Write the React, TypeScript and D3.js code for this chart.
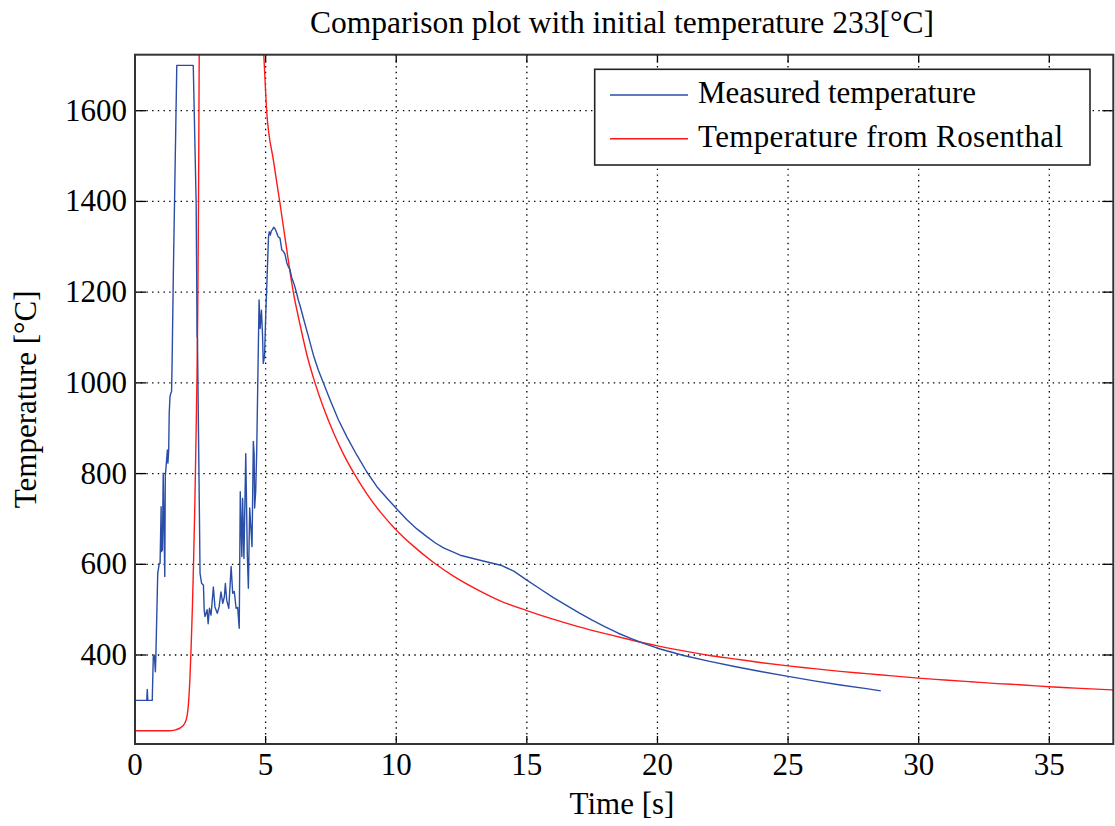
import React from "react";
import * as d3 from "d3";

const measuredTime = [0, 0.45, 0.47, 0.49, 0.66, 0.70, 0.74, 0.78, 0.80, 0.87, 0.93, 0.96, 1.00, 1.01, 1.05, 1.08, 1.14, 1.16, 1.20, 1.24, 1.26, 1.29, 1.31, 1.34, 1.37, 1.40, 1.42, 1.47, 1.60, 2.23, 2.34, 2.36, 2.375, 2.39, 2.46, 2.49, 2.55, 2.62, 2.65, 2.68, 2.72, 2.76, 2.80, 2.85, 2.91, 3.00, 3.06, 3.15, 3.22, 3.29, 3.36, 3.42, 3.46, 3.51, 3.59, 3.68, 3.74, 3.80, 3.87, 3.93, 3.99, 4.03, 4.09, 4.12, 4.17, 4.24, 4.30, 4.34, 4.39, 4.48, 4.53, 4.56, 4.58, 4.62, 4.66, 4.75, 4.79, 4.84, 4.88, 4.91, 4.96, 5.01, 5.04, 5.11, 5.14, 5.18, 5.22, 5.26, 5.31, 5.36, 5.41, 5.48, 5.55, 5.62, 5.68, 5.74, 5.81, 5.87, 5.93, 6.00, 6.06, 6.10, 6.19, 6.25, 6.32, 6.45, 6.64, 6.83, 7.02, 7.21, 7.47, 7.79, 8.11, 8.49, 8.87, 9.26, 9.64, 10.02, 10.41, 10.79, 11.17, 11.5, 11.81, 12.45, 13.21, 14, 14.5, 15, 15.5, 16, 16.5, 17, 17.5, 18, 18.5, 19, 19.5, 20, 21, 22, 23, 24, 25, 26, 27, 28, 28.55];
const measuredTemp = [300, 300, 324, 300, 300, 396, 400, 363, 400, 580, 602, 602, 727, 628, 632, 801, 573, 794, 823, 852, 823, 852, 933, 970, 977, 981, 1043, 1249, 1700, 1700, 1400, 1250, 1102, 1100, 742, 580, 558, 554, 498, 485, 492, 500, 469, 503, 488, 550, 506, 492, 506, 539, 514, 528, 558, 521, 503, 595, 536, 540, 503, 505, 459, 760, 617, 745, 613, 844, 620, 547, 724, 639, 871, 844, 724, 760, 852, 1183, 1120, 1160, 1109, 1043, 1060, 1160, 1205, 1322, 1333, 1326, 1335, 1338, 1343, 1340, 1333, 1322, 1319, 1293, 1290, 1284, 1265, 1256, 1250, 1232, 1223, 1216, 1197, 1183, 1170, 1142, 1102, 1061, 1028, 1000, 962, 918, 881, 841, 804, 771, 746, 722, 698, 678, 661, 647, 636, 620, 609, 598, 585, 565, 546, 527, 510, 493, 477, 462, 448, 436, 425, 415, 399, 386, 374, 363, 353, 343, 334, 326, 321];

const rosenthalTime = [0, 1.3, 1.55, 1.75, 1.91, 2.0, 2.05, 2.1, 2.15, 2.2, 2.24, 2.29, 2.33, 2.37, 2.40, 2.42, 2.44, 2.46, 2.5, 3.0, 4.0, 4.6, 4.8, 4.93, 5.04, 5.3, 5.55, 5.81, 6.06, 6.32, 6.58, 6.89, 7.21, 7.60, 7.98, 8.39, 8.87, 9.38, 9.96, 10.66, 11.43, 12.19, 13.21, 14, 15, 16, 17, 18, 19, 20, 21, 22, 23, 24, 25, 26, 27, 28, 29, 30, 31, 32, 33, 34, 35, 36, 37.45];
const rosenthalTemp = [233, 233, 235, 240, 250, 268, 295, 345, 420, 510, 600, 730, 860, 1000, 1150, 1300, 1500, 1750, 2100, 3500, 2600, 2050, 1840, 1723, 1600, 1490, 1396, 1293, 1200, 1128, 1062, 1000, 946, 890, 843, 800, 756, 716, 678, 640, 604, 574, 541, 519, 498, 479, 462, 447, 433, 420, 409, 399, 391, 383, 376, 370, 364, 359, 354, 349, 345, 341, 337, 334, 330, 327, 323];

const xTicks = [0, 5, 10, 15, 20, 25, 30, 35];
const yTicks = [400, 600, 800, 1000, 1200, 1400, 1600];

const titleText = "Comparison plot with initial temperature 233[°C]";
const xLabel = "Time [s]";
const yLabel = "Temperature [°C]";
const seriesNames = ["Measured temperature", "Temperature from Rosenthal"];

const W = 1115;
const H = 826;
const left = 135;
const right = 1113.3;
const top = 54.7;
const bottom = 744;
const FONT = "'Liberation Serif', 'Times New Roman', serif";
const BLUE = "#2a4ea6";
const RED = "#ff1a1a";

export default function App() {
  const x = d3.scaleLinear().domain([0, 37.45]).range([left, right]);
  const y = d3.scaleLinear().domain([203.8, 1723.5]).range([bottom, top]);

  const measured = measuredTime.map((t, i) => [t, measuredTemp[i]] as [number, number]);
  const rosen = rosenthalTime.map((t, i) => [t, rosenthalTemp[i]] as [number, number]);

  const lineLin = d3.line<[number, number]>().x((d) => x(d[0])).y((d) => y(d[1]));
  const lineSmooth = d3
    .line<[number, number]>()
    .x((d) => x(d[0]))
    .y((d) => y(d[1]))
    .curve(d3.curveMonotoneX);

  const tickLen = 8;
  const grid = "1.4 4.3";

  return (
    <svg
      width={W}
      height={H}
      style={{ position: "absolute", left: 0, top: 0, background: "#fff" }}
      fontFamily={FONT}
    >
      <defs>
        <clipPath id="plotclip">
          <rect x={left} y={top} width={right - left} height={bottom - top} />
        </clipPath>
      </defs>
      <rect x={0} y={0} width={W} height={H} fill="#fff" />

      {xTicks.filter((t) => t > 0).map((t) => (
        <line key={"gx" + t} x1={x(t)} x2={x(t)} y1={top} y2={bottom} stroke="#000" strokeWidth={1.3} strokeDasharray={grid} />
      ))}
      {yTicks.map((t) => (
        <line key={"gy" + t} x1={left} x2={right} y1={y(t)} y2={y(t)} stroke="#000" strokeWidth={1.3} strokeDasharray={grid} />
      ))}

      {xTicks.map((t) => (
        <g key={"tx" + t}>
          <line x1={x(t)} x2={x(t)} y1={bottom} y2={bottom - tickLen} stroke="#000" strokeWidth={1.3} />
          <line x1={x(t)} x2={x(t)} y1={top} y2={top + tickLen} stroke="#000" strokeWidth={1.3} />
          <text x={x(t)} y={775} textAnchor="middle" fontSize={31} fill="#000">
            {t}
          </text>
        </g>
      ))}
      {yTicks.map((t) => (
        <g key={"ty" + t}>
          <line x1={left} x2={left + tickLen + 3} y1={y(t)} y2={y(t)} stroke="#000" strokeWidth={1.3} />
          <line x1={right} x2={right - tickLen - 3} y1={y(t)} y2={y(t)} stroke="#000" strokeWidth={1.3} />
          <text x={127} y={y(t) + 10} textAnchor="end" fontSize={31} fill="#000">
            {t}
          </text>
        </g>
      ))}

      <g clipPath="url(#plotclip)">
        <path d={lineSmooth(rosen) || ""} fill="none" stroke={RED} strokeWidth={1.4} />
        <path d={lineLin(measured) || ""} fill="none" stroke={BLUE} strokeWidth={1.4} strokeLinejoin="round" />
      </g>

      <rect x={left} y={top} width={right - left} height={bottom - top} fill="none" stroke="#333" strokeWidth={2} />

      <rect x={594.7} y={69.3} width={495.3} height={95.7} fill="#fff" stroke="#222" strokeWidth={1.6} />
      <line x1={610} x2={688} y1={95} y2={95} stroke={BLUE} strokeWidth={1.4} />
      <line x1={610} x2={688} y1={138.7} y2={138.7} stroke={RED} strokeWidth={1.4} />
      <text x={698} y={103} fontSize={31} fill="#000">{seriesNames[0]}</text>
      <text x={698} y={146.5} fontSize={31} fill="#000" textLength={365} lengthAdjust="spacing">{seriesNames[1]}</text>

      <text x={622} y={33} textAnchor="middle" fontSize={31.5} fill="#000">{titleText}</text>
      <text x={622} y={814} textAnchor="middle" fontSize={31} fill="#000">{xLabel}</text>
      <text transform={`translate(36, ${(top + bottom) / 2}) rotate(-90)`} textAnchor="middle" fontSize={31} fill="#000">
        {yLabel}
      </text>
    </svg>
  );
}
